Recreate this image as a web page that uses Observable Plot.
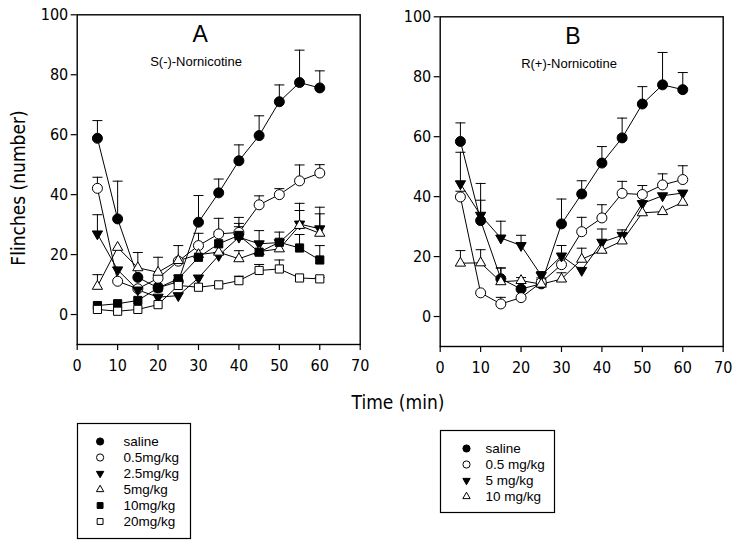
<!DOCTYPE html>
<html><head><meta charset="utf-8">
<script src="https://cdn.jsdelivr.net/npm/d3@7"></script>
<script src="https://cdn.jsdelivr.net/npm/@observablehq/plot@0.6"></script>
<style>
body{margin:0;background:#fff;}
#root{position:relative;width:739px;height:547px;overflow:hidden;background:#fff;}
.abs{position:absolute;}
.lbl{position:absolute;font-family:"Liberation Sans Narrow","Arial Narrow","DejaVu Sans Condensed","Liberation Sans",Arial,sans-serif;font-stretch:condensed;font-size:19px;color:#000;white-space:nowrap;transform:translate(-50%,-50%);}
svg text{font-stretch:condensed;}
</style></head><body><div id="root"></div>
<script>
// ---------- data ----------
const times = [5, 10, 15, 20, 25, 30, 35, 40, 45, 50, 55, 60];
const xTicks = [0, 10, 20, 30, 40, 50, 60, 70];
const yTicks = [0, 20, 40, 60, 80, 100];

// Panel A: S(-)-Nornicotine
const labelsA = ["saline", "0.5mg/kg", "2.5mg/kg", "5mg/kg", "10mg/kg", "20mg/kg"];
const aSaline   = [58.8, 31.9, 12.4, 8.9, 11.0, 30.8, 40.6, 51.3, 59.7, 71.0, 77.4, 75.6];
const aSalineSE = [5.9, 12.6, 0, 0, 0, 8.9, 4.6, 5.3, 6.6, 5.6, 10.8, 5.7];
const a05       = [42.1, 11.1, 8.6, 12.1, 17.8, 23.0, 26.9, 27.4, 36.6, 40.0, 44.6, 47.2];
const a05SE     = [3.7, 0, 0, 0, 5.2, 4.1, 5.2, 5.0, 3.0, 2.0, 5.3, 2.8];
const a25       = [26.9, 14.9, 8.2, 5.8, 6.3, 12.2, 19.7, 25.8, 23.6, 24.0, 30.2, 28.6];
const a25SE     = [6.4, 0, 0, 0, 0, 0, 0, 3.5, 4.4, 0, 6.9, 7.2];
const a5        = [9.4, 22.4, 15.6, 14.1, 18.0, 20.0, 20.8, 18.6, 21.0, 21.9, 29.7, 27.1];
const a5SE      = [3.9, 0, 5.1, 5.0, 0, 0, 0, 2.7, 0, 0, 5.0, 6.5];
const a10       = [3.0, 3.6, 4.7, 8.9, 11.9, 19.1, 23.6, 26.4, 20.8, 24.1, 22.2, 18.2];
const a10SE     = [0, 0, 0, 0, 1.2, 3.5, 4.0, 4.0, 0, 3.4, 4.5, 4.8];
const a20       = [1.7, 1.1, 1.7, 3.3, 9.7, 9.1, 9.9, 11.3, 14.7, 15.2, 12.2, 11.9];
const a20SE     = [0, 0, 0, 0, 0, 0, 0, 1.5, 2.0, 3.0, 0, 0.5];

// Panel B: R(+)-Nornicotine
const labelsB = ["saline", "0.5 mg/kg", "5 mg/kg", "10 mg/kg"];
const bSaline   = [58.4, 32.0, 12.6, 9.2, 10.9, 30.9, 40.9, 51.2, 59.6, 70.9, 77.3, 75.7];
const bSalineSE = [6.2, 12.4, 3.6, 0, 0, 8.3, 4.4, 5.5, 6.6, 5.8, 10.8, 5.7];
const b05       = [39.9, 7.9, 4.2, 6.3, 11.4, 17.3, 28.3, 32.9, 41.1, 40.7, 43.9, 45.7];
const b05SE     = [1.9, 0, 2.2, 0, 1.5, 0, 4.8, 4.4, 4.0, 3.0, 3.7, 4.6];
const b5        = [44.3, 33.8, 26.2, 23.7, 13.7, 20.2, 15.4, 24.8, 27.1, 37.7, 40.3, 41.2];
const b5SE      = [10.5, 5.0, 5.6, 3.4, 1.3, 3.5, 0, 4.4, 1.8, 0, 0, 0];
const b10       = [17.8, 17.9, 11.6, 12.0, 10.8, 12.5, 19.1, 22.1, 25.2, 34.6, 35.0, 38.1];
const b10SE     = [4.2, 4.4, 4.6, 1.0, 1.5, 2.1, 3.7, 0, 0, 0, 0, 0];

// ---------- styles ----------
const SQ3 = Math.sqrt(3);
const triDown = {draw(ctx, size) {
  const y = -Math.sqrt(size / (SQ3 * 3));
  ctx.moveTo(0, -y * 2); ctx.lineTo(SQ3 * y, y); ctx.lineTo(-SQ3 * y, y); ctx.closePath();
}};
const capSym = {draw(ctx, size) { ctx.moveTo(-5, 0); ctx.lineTo(5, 0); }};
const ST = {
  circleFilled: {symbol: "circle", fill: "black", r: 5},
  circleOpen: {symbol: "circle", fill: "white", r: 5},
  triDownFilled: {symbol: triDown, fill: "black", r: 3.8},
  triUpOpen: {symbol: "triangle", fill: "white", r: 3.8},
  squareFilled: {symbol: "square", fill: "black", r: 4.6},
  squareOpen: {symbol: "square", fill: "white", r: 4.6}
};
const stylesA = ["circleFilled", "circleOpen", "triDownFilled", "triUpOpen", "squareFilled", "squareOpen"];
const stylesB = ["circleFilled", "circleOpen", "triDownFilled", "triUpOpen"];

const narrow = "'Liberation Sans Narrow','Arial Narrow','DejaVu Sans Condensed','Liberation Sans',Arial,sans-serif";
const sans = "'Liberation Sans',Arial,sans-serif";

function panel(series, styles, letter, subtitle, lx, sx) {
  const marks = [];
  const all = series.map(([vals, se]) => times.map((t, j) => ({t, v: vals[j], se: se[j]})));
  all.forEach(rows => {
    const eb = rows.filter(d => d.se > 0);
    marks.push(Plot.ruleX(eb, {x: "t", y1: "v", y2: d => d.v + d.se, stroke: "black", strokeWidth: 1}));
    marks.push(Plot.dot(eb, {x: "t", y: d => d.v + d.se, symbol: capSym, stroke: "black", fill: "none", strokeWidth: 1}));
  });
  all.forEach(rows => marks.push(Plot.line(rows, {x: "t", y: "v", stroke: "black", strokeWidth: 1})));
  all.forEach((rows, i) => {
    const s = ST[styles[i]];
    marks.push(Plot.dot(rows, {x: "t", y: "v", symbol: s.symbol, r: s.r, fill: s.fill, stroke: "black", strokeWidth: 1}));
  });
  return Plot.plot({
    width: 370, height: 380,
    marginLeft: 76.7, marginRight: 10.3, marginTop: 14.3, marginBottom: 36,
    x: {domain: [0, 70]},
    y: {domain: [-10, 100]},
    style: {fontFamily: narrow, fontSize: "16px", color: "black", background: "transparent", overflow: "visible"},
    marks: [
      Plot.frame({stroke: "black", strokeWidth: 1.4}),
      Plot.axisX(xTicks, {tickSize: 6, tickPadding: 9, label: null, strokeWidth: 1.2}),
      Plot.axisY(yTicks, {tickSize: 6, tickPadding: 3, label: null, strokeWidth: 1.2}),
      ...marks,
      Plot.text([letter], {frameAnchor: "top", dx: lx, dy: 19.5, fontSize: 23, fontFamily: sans, lineAnchor: "middle"}),
      Plot.text([subtitle], {frameAnchor: "top", dx: sx, dy: 47.5, fontSize: 13, fontFamily: sans, lineAnchor: "middle"})
    ]
  });
}

function legend(labels, styles, w, h, r0, r1, dotX, textX) {
  const marks = [Plot.frame({stroke: "black", strokeWidth: 1.2})];
  labels.forEach((lab, i) => {
    const s = ST[styles[i]];
    marks.push(Plot.dot([lab], {y: d => d, frameAnchor: "left", dx: dotX, symbol: s.symbol, r: s.r * 0.72, fill: s.fill, stroke: "black", strokeWidth: 1}));
  });
  marks.push(Plot.text(labels, {y: d => d, frameAnchor: "left", dx: textX, textAnchor: "start", fontSize: 13.5, fontFamily: sans}));
  return Plot.plot({
    width: w, height: h, margin: 0,
    y: {type: "point", domain: labels, range: [r0, r1], padding: 0, axis: null},
    x: {axis: null},
    style: {background: "transparent", color: "black", overflow: "visible", fontStretch: "normal"},
    marks
  });
}

const root = document.getElementById("root");
function place(el, left, top) { el.classList.add("abs"); el.style.left = left + "px"; el.style.top = top + "px"; root.appendChild(el); }

place(panel([[aSaline, aSalineSE], [a05, a05SE], [a25, a25SE], [a5, a5SE], [a10, a10SE], [a20, a20SE]], stylesA, "A", "S(-)-Nornicotine", -18.5, -22.7), 0, 0);
place(panel([[bSaline, bSalineSE], [b05, b05SE], [b5, b5SE], [b10, b10SE]], stylesB, "B", "R(+)-Nornicotine", -8.7, -12.7), 362.6, 1.7);
const legA = legend(labelsA, stylesA, 113, 115, 17.3, 98.3, 22.6, 46);
const legB = legend(labelsB, stylesB, 114, 82, 17.3, 66, 26, 45);
place(legA, 76.7, 422.7);
place(legB, 440, 430);
// titles / subtitles / legend texts use normal width
d3.selectAll("svg text").filter(function() { return /Nornicotine|^[AB]$/.test(this.textContent); }).style("font-stretch", "normal");
d3.select(legA).selectAll("text").style("font-stretch", "normal");
d3.select(legB).selectAll("text").style("font-stretch", "normal");

const tx = document.createElement("div"); tx.className = "lbl"; tx.textContent = "Time (min)";
tx.style.left = "398px"; tx.style.top = "402px"; root.appendChild(tx);
const ty = document.createElement("div"); ty.className = "lbl"; ty.textContent = "Flinches (number)";
ty.style.left = "18px"; ty.style.top = "188px"; ty.style.transform = "translate(-50%,-50%) rotate(-90deg)"; root.appendChild(ty);
</script></body></html>
